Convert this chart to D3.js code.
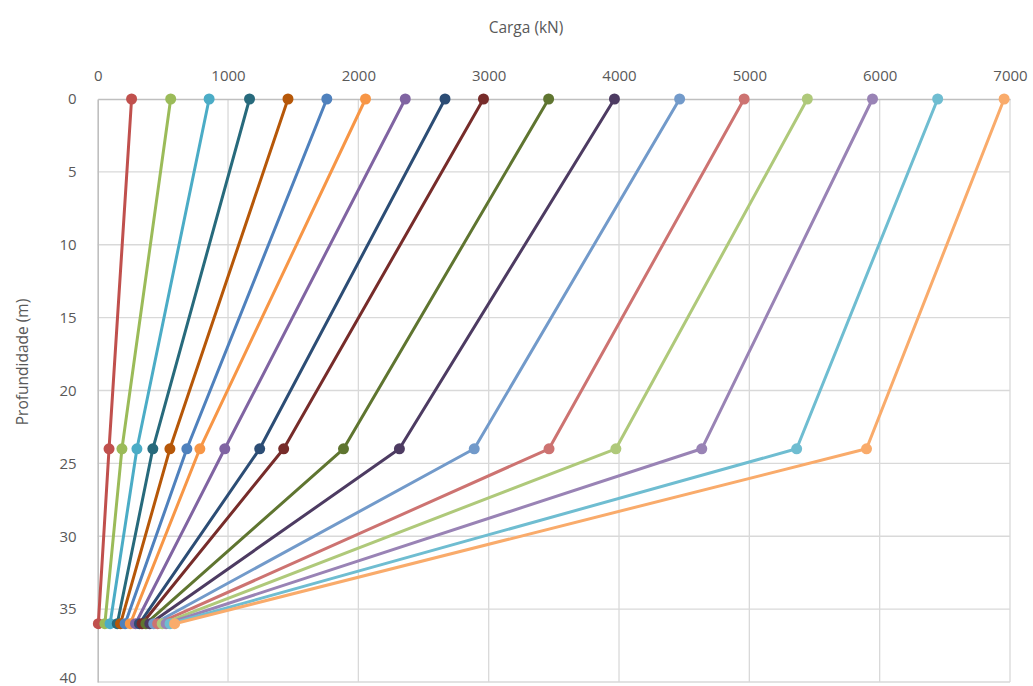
<!DOCTYPE html>
<html>
<head>
<meta charset="utf-8">
<script src="https://cdn.jsdelivr.net/npm/d3@7/dist/d3.min.js"></script>
<style>
  html, body { margin: 0; padding: 0; background: #fff; }
  svg { display: block; }
  text { font-family: "Open Sans", "Liberation Sans", sans-serif; fill: #595959; }
</style>
</head>
<body>
<svg id="chart" width="1033" height="686"></svg>
<script>
// Depths (m) at which the load was measured
const depths = [0, 24, 36];

// Load (kN) at each depth, one entry per curve
const loadTop = [260, 560, 855, 1165, 1460, 1758, 2055, 2360, 2665, 2960, 3460, 3965, 4465, 4960, 5445, 5945, 6445, 6955];
const load24  = [87, 186, 301, 423, 554, 684, 784, 975, 1243, 1427, 1886, 2315, 2889, 3463, 3976, 4635, 5363, 5899];
const load36  = [5, 55, 95, 150, 175, 210, 250, 290, 320, 340, 370, 400, 430, 460, 495, 525, 555, 590];

// Curve colours
const colors = ["#C0504D", "#9BBB59", "#4BACC6", "#276A7C", "#B65708", "#4F81BD",
                "#F79646", "#8064A2", "#2C4D75", "#772C2A", "#5F7530", "#4D3B62",
                "#729ACA", "#CD7371", "#AFC97A", "#9983B5", "#6FBDD1", "#F9AB6B"];

// Axis ticks
const xTicks = [0, 1000, 2000, 3000, 4000, 5000, 6000, 7000];
const yTicks = [0, 5, 10, 15, 20, 25, 30, 35, 40];

const svg = d3.select("#chart");
const plotLeft = 97.7, plotRight = 1010, plotTop = 99, plotBottom = 682;

const x = d3.scaleLinear().domain([0, 7000]).range([plotLeft, plotRight]);
const y = d3.scaleLinear().domain([0, 40]).range([plotTop, plotBottom]);

// Gridlines
const grid = svg.append("g");
grid.selectAll("line.v").data(xTicks.slice(1)).join("line")
  .attr("x1", d => x(d)).attr("x2", d => x(d))
  .attr("y1", plotTop).attr("y2", plotBottom)
  .attr("stroke", "#D9D9D9").attr("stroke-width", 1.3);
grid.selectAll("line.h").data(yTicks.slice(1)).join("line")
  .attr("x1", plotLeft).attr("x2", plotRight)
  .attr("y1", d => y(d)).attr("y2", d => y(d))
  .attr("stroke", "#D9D9D9").attr("stroke-width", 1.3);

// Axes (top for load, left for depth)
const xAxis = svg.append("g").attr("transform", `translate(0,${plotTop})`)
  .call(d3.axisTop(x).tickValues(xTicks).tickSize(0).tickPadding(18).tickFormat(d3.format("d")));
const yAxis = svg.append("g").attr("transform", `translate(${plotLeft},0)`)
  .call(d3.axisLeft(y).tickValues(yTicks).tickSize(0).tickPadding(21).tickFormat(d3.format("d")));
[xAxis, yAxis].forEach(a => {
  a.select(".domain").attr("stroke", "#BFBFBF").attr("stroke-width", 1.6);
  a.selectAll("text").style("font-size", "15px").attr("fill", "#595959");
});
// keep the lowest depth label inside the canvas
yAxis.selectAll(".tick text").filter(d => d === 40).attr("dy", "0.05em");

// Axis titles
svg.append("text").attr("x", 526).attr("y", 33).attr("text-anchor", "middle")
  .style("font-size", "15.5px").text("Carga (kN)");
svg.append("text").attr("transform", "translate(28,362) rotate(-90)")
  .attr("text-anchor", "middle").style("font-size", "15.5px").text("Profundidade (m)");

// Curves
const series = loadTop.map((t, i) => ({
  color: colors[i],
  pts: [loadTop[i], load24[i], load36[i]].map((v, j) => ({ load: v, depth: depths[j] }))
}));

const line = d3.line().x(d => x(d.load)).y(d => y(d.depth));
const g = svg.append("g");
series.forEach(s => {
  const sg = g.append("g");
  sg.append("path").datum(s.pts).attr("d", line)
    .attr("fill", "none").attr("stroke", s.color).attr("stroke-width", 3)
    .attr("stroke-linejoin", "round");
  sg.selectAll("circle").data(s.pts).join("circle")
    .attr("cx", d => x(d.load)).attr("cy", d => y(d.depth)).attr("r", 5.5)
    .attr("fill", s.color);
});
</script>
</body>
</html>
